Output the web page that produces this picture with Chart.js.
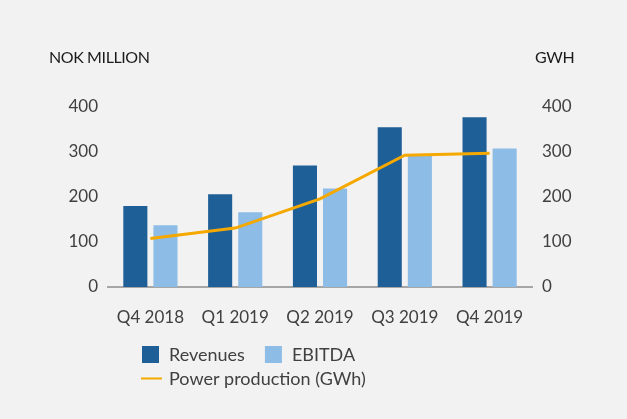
<!DOCTYPE html>
<html>
<head>
<meta charset="utf-8">
<script src="https://cdn.jsdelivr.net/npm/chart.js@4.4.1/dist/chart.umd.min.js"></script>
<style>
    html, body { margin: 0; padding: 0; background: #f2f2f2; }
    #wrap { width: 627px; height: 419px; }
</style>
</head>
<body>
<div id="wrap"><canvas id="powerChart" width="627" height="419"></canvas></div>
<script>
const quarters = ["Q4 2018", "Q1 2019", "Q2 2019", "Q3 2019", "Q4 2019"];
const revenues = [180, 206, 270, 355, 377];
const ebitda = [137, 166, 219, 295, 308];
const production = [108, 131, 196, 293, 297];
const nokTicks = [0, 100, 200, 300, 400];
const gwhTicks = [0, 100, 200, 300, 400];

const tickFont = { family: "Lato", size: 17 };
const textColor = "#404040";

// axis captions + two-row legend, drawn on the canvas
const extras = {
    id: "extras",
    afterDraw(chart) {
        const ctx = chart.ctx;
        ctx.save();
        ctx.fillStyle = "#1a1a1a";
        ctx.font = "16px Lato";
        ctx.letterSpacing = "-0.4px";
        ctx.textBaseline = "alphabetic";
        ctx.fillText("NOK MILLION", 49, 63);
        ctx.fillText("GWH", 535, 63);
        ctx.letterSpacing = "0px";

        const ds = chart.data.datasets;
        const rows = [[1, 2], [0]];
        const rowY = [354.5, 378.5];
        ctx.font = "18px Lato";
        rows.forEach((row, r) => {
            let x = 142;
            row.forEach(i => {
                const d = ds[i];
                if (d.type === "line") {
                    ctx.fillStyle = d.borderColor;
                    ctx.fillRect(x - 1, rowY[r] - 1, 21, 2);
                } else {
                    ctx.fillStyle = d.backgroundColor;
                    ctx.fillRect(x, rowY[r] - 8.5, 17, 17);
                }
                ctx.fillStyle = textColor;
                ctx.fillText(d.label, x + 27, rowY[r] + 6.5);
                x += 27 + ctx.measureText(d.label).width + 20;
            });
        });
        ctx.restore();
    }
};

const ctx = document.getElementById("powerChart").getContext("2d");

new Chart(ctx, {
    data: {
        labels: quarters,
        datasets: [
            {
                type: "line",
                label: "Power production (GWh)",
                data: production,
                yAxisID: "y1",
                borderColor: "#f5a800",
                borderWidth: 3,
                pointRadius: 0,
                tension: 0,
                order: 0
            },
            {
                type: "bar",
                label: "Revenues",
                data: revenues,
                yAxisID: "y",
                backgroundColor: "#1f5f97",
                categoryPercentage: 0.71,
                barPercentage: 0.8,
                order: 1
            },
            {
                type: "bar",
                label: "EBITDA",
                data: ebitda,
                yAxisID: "y",
                backgroundColor: "#8dbce6",
                categoryPercentage: 0.71,
                barPercentage: 0.8,
                order: 2
            }
        ]
    },
    options: {
        responsive: false,
        animation: false,
        layout: { padding: { top: 107, left: 0, right: 0, bottom: 0 } },
        plugins: {
            legend: { display: false },
            tooltip: { enabled: false }
        },
        scales: {
            x: {
                grid: { display: false, drawTicks: false },
                border: { display: true, color: "#a6a6a6", width: 2 },
                ticks: { color: textColor, font: tickFont, padding: 20 },
                afterFit: s => { s.height = 132; }
            },
            y: {
                position: "left",
                min: 0,
                max: 400,
                grid: { display: false, drawTicks: false },
                border: { display: false },
                ticks: { color: textColor, font: tickFont, padding: 10 },
                afterBuildTicks: s => { s.ticks = nokTicks.map(v => ({ value: v })); },
                afterFit: s => { s.width = 108; }
            },
            y1: {
                position: "right",
                min: 0,
                max: 400,
                grid: { display: false, drawTicks: false },
                border: { display: false },
                ticks: { color: textColor, font: tickFont, padding: 10 },
                afterBuildTicks: s => { s.ticks = gwhTicks.map(v => ({ value: v })); },
                afterFit: s => { s.width = 95; }
            }
        }
    },
    plugins: [extras]
});
</script>
</body>
</html>
